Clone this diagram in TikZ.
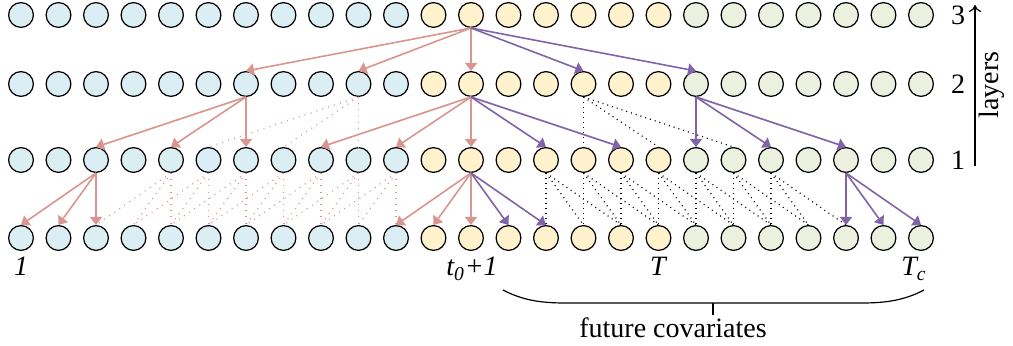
\documentclass[tikz,border=0pt]{standalone}
\usepackage{fontspec}
\setmainfont{Liberation Serif}
\usetikzlibrary{arrows.meta}
\definecolor{cblue}{HTML}{DBEEF3}
\definecolor{cyell}{HTML}{FFF2CC}
\definecolor{cgreen}{HTML}{EBF1DE}
\definecolor{cpink}{HTML}{D9958F}
\definecolor{cpurp}{HTML}{7F64A8}
\begin{document}
\begin{tikzpicture}[x=0.5pt,y=-0.5pt,
  cell/.style={circle,draw=black,line width=0.6pt,minimum size=12.4pt,inner sep=0pt},
  pinkarrow/.style={draw=cpink,line width=0.8pt,-{Triangle[width=6pt,length=4pt]}},
  purparrow/.style={draw=cpurp,line width=0.8pt,-{Triangle[width=6pt,length=4pt]}},
  pinkdot/.style={draw=cpink,line width=0.6pt,dash pattern=on 0.5pt off 2.6pt},
  blackdot/.style={draw=black,line width=0.6pt,dash pattern=on 0.5pt off 2pt},
  lab/.style={font=\fontsize{14}{16}\selectfont},
  itlab/.style={font=\fontsize{14}{16}\selectfont\itshape,anchor=base}]
\useasboundingbox (0,0) rectangle (1013,346);
% cells
\foreach \r/\y in {3/15,2/84,1/160,0/238}{
  \foreach \c in {0,...,10}{\node[cell,fill=cblue] (n\r-\c) at ({21+37.5*\c},\y) {};}
  \foreach \c in {11,...,17}{\node[cell,fill=cyell] (n\r-\c) at ({21+37.5*\c},\y) {};}
  \foreach \c in {18,...,24}{\node[cell,fill=cgreen] (n\r-\c) at ({21+37.5*\c},\y) {};}
}
% dotted connections
\foreach \t in {5,7,9}{\draw[pinkdot] (n2-9.south) -- (n1-\t.north);}
\foreach \t in {15,17,19}{\draw[blackdot] (n2-15.south) -- (n1-\t.north);}
\foreach \s in {4,...,10}{
  \foreach \d in {0,1,2}{
    \pgfmathtruncatemacro{\t}{\s-\d}
    \draw[pinkdot] (n1-\s.south) -- (n0-\t.north);
  }
}
\foreach \s in {14,...,20}{
  \foreach \d in {0,1,2}{
    \pgfmathtruncatemacro{\t}{\s+\d}
    \draw[blackdot] (n1-\s.south) -- (n0-\t.north);
  }
}
% solid arrows
\foreach \t in {6,9,12}{\draw[pinkarrow] (n3-12.south) -- (n2-\t.north);}
\foreach \t in {15,18}{\draw[purparrow] (n3-12.south) -- (n2-\t.north);}
\foreach \t in {2,4,6}{\draw[pinkarrow] (n2-6.south) -- (n1-\t.north);}
\foreach \t in {8,10,12}{\draw[pinkarrow] (n2-12.south) -- (n1-\t.north);}
\foreach \t in {14,16}{\draw[purparrow] (n2-12.south) -- (n1-\t.north);}
\foreach \t in {18,20,22}{\draw[purparrow] (n2-18.south) -- (n1-\t.north);}
\foreach \t in {0,1,2}{\draw[pinkarrow] (n1-2.south) -- (n0-\t.north);}
\foreach \t in {10,11,12}{\draw[pinkarrow] (n1-12.south) -- (n0-\t.north);}
\foreach \t in {13,14}{\draw[purparrow] (n1-12.south) -- (n0-\t.north);}
\foreach \t in {22,23,24}{\draw[purparrow] (n1-22.south) -- (n0-\t.north);}
% time labels
\node[itlab] (l1) at (21,276) {1};
\node[itlab] (lt0) at (472,276) {t\textsubscript{0}+1};
\node[itlab] (lT) at (658,276) {T};
\node[itlab] (lTc) at (914,276) {T\textsubscript{c}};
% layer labels
\node[lab] (k3) at (958,15) {3};
\node[lab] (k2) at (958,84) {2};
\node[lab] (k1) at (958,160) {1};
\coordinate (la) at (975,166);
\coordinate (lb) at (975,5);
\draw[line width=0.6pt,-{To[length=3.5pt,width=6pt]}] (la) -- (lb);
\node[lab,rotate=90] (lay) at (992,85) {layers};
% brace
\coordinate (b1) at (503,290);
\coordinate (b2) at (924,290);
\coordinate (bm) at (713,303);
\coordinate (bt) at (713,315);
\draw[line width=0.6pt] (b1) .. controls (522,300) and (540,303) .. (565,303) -- (862,303) .. controls (887,303) and (905,300) .. (b2);
\draw[line width=0.6pt] (bm) -- (bt);
\node[lab] (fc) at (673,328) {future covariates};
\end{tikzpicture}
\end{document}
